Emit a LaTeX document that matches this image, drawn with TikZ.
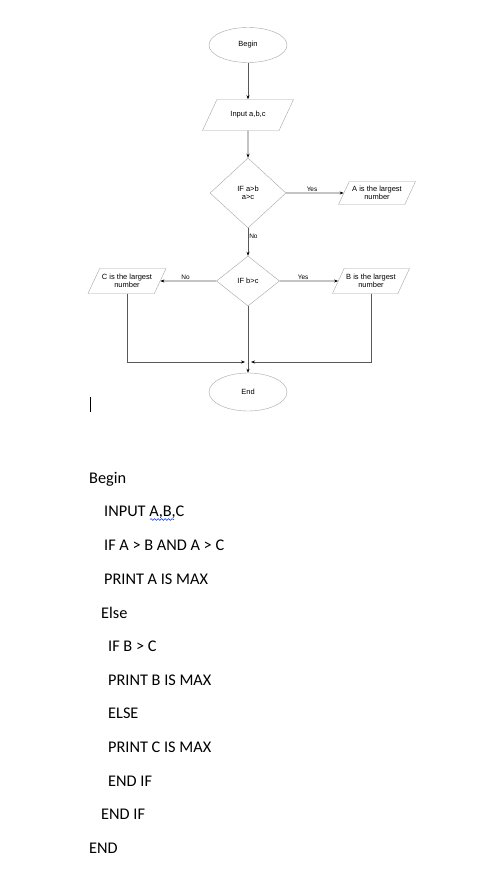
\documentclass[tikz,border=0pt]{standalone}
\usepackage{fontspec}
\setmainfont{Carlito}
\newfontfamily\chartfont{Liberation Sans}
\usetikzlibrary{shapes.geometric,arrows.meta,decorations.pathmorphing}

\tikzset{
  chart/.style={draw=black!35,font=\chartfont\fontsize{7.5}{8.5}\selectfont,align=center,inner sep=0pt},
  term/.style={chart,ellipse,minimum width=78,minimum height=35},
  io/.style={chart,trapezium,trapezium left angle=65,trapezium right angle=115,trapezium stretches body},
  test/.style={chart,diamond},
  link/.style={draw=black!65,line width=0.6pt,-{Stealth[length=4pt,width=3pt,black]}},
  lbl/.style={font=\chartfont\fontsize{6.5}{7}\selectfont,inner sep=1pt},
  code/.style={anchor=base west,inner sep=0pt,font=\fontsize{16.3}{19}\selectfont}
}

\begin{document}
\begin{tikzpicture}[x=1pt,y=-1pt]
  \useasboundingbox[fill=white] (0,0) rectangle (477,870);

  % flowchart
  \node[term] (begin) at (248,45) {Begin};
  \node[io,minimum width=91,inner ysep=12pt] (input) at (248,115) {Input a,b,c};
  \node[test,minimum width=76,minimum height=70] (ab) at (248,193) {IF a>b\\a>c};
  \node[io,minimum width=77,inner ysep=4.5pt] (amax) at (377,193) {A is the largest\\number};
  \node[test,minimum width=63,minimum height=50] (bc) at (248,281) {IF b>c};
  \node[io,minimum width=78,inner ysep=5.5pt] (cmax) at (127,281) {C is the largest\\number};
  \node[io,minimum width=77,inner ysep=5.5pt] (bmax) at (371,281) {B is the largest\\number};
  \node[term,minimum height=38] (end) at (248,392) {End};
  \coordinate (jl) at (245,362);
  \coordinate (jr) at (251,362);

  \draw[link] (begin) -- (input);
  \draw[link] (input) -- (ab);
  \draw[link] (ab) -- node[lbl,above,pos=0.45] {Yes} (amax);
  \draw[link] (ab) -- node[lbl,right,pos=0.3] {No} (bc);
  \draw[link] (bc) -- node[lbl,above,pos=0.55] {No} (cmax);
  \draw[link] (bc) -- node[lbl,above,pos=0.4] {Yes} (bmax);
  \draw[link] (bc) -- (end);
  \draw[link] (cmax) |- (jl);
  \draw[link] (bmax) |- (jr);

  % text cursor
  \draw[line width=0.8pt] (90,397) -- (90,412);

  % pseudocode
  \foreach \x/\y/\t in {89/483/Begin,104/516.5/{INPUT A,B,C},104/550/{IF A > B AND A > C},
      104/584/{PRINT A IS MAX},101/618/Else,108/651/{IF B > C},108/685/{PRINT B IS MAX},
      108/718.5/ELSE,108/752/{PRINT C IS MAX},108/786/{END IF},101/819.5/{END IF},89/853/END}
    \node[code] at (\x,\y) {\t};
  \draw[blue!80!cyan,line width=0.5pt,decoration={snake,amplitude=0.9pt,segment length=3.5pt},decorate]
    (150,519.5) -- (174,519.5);
\end{tikzpicture}
\end{document}
